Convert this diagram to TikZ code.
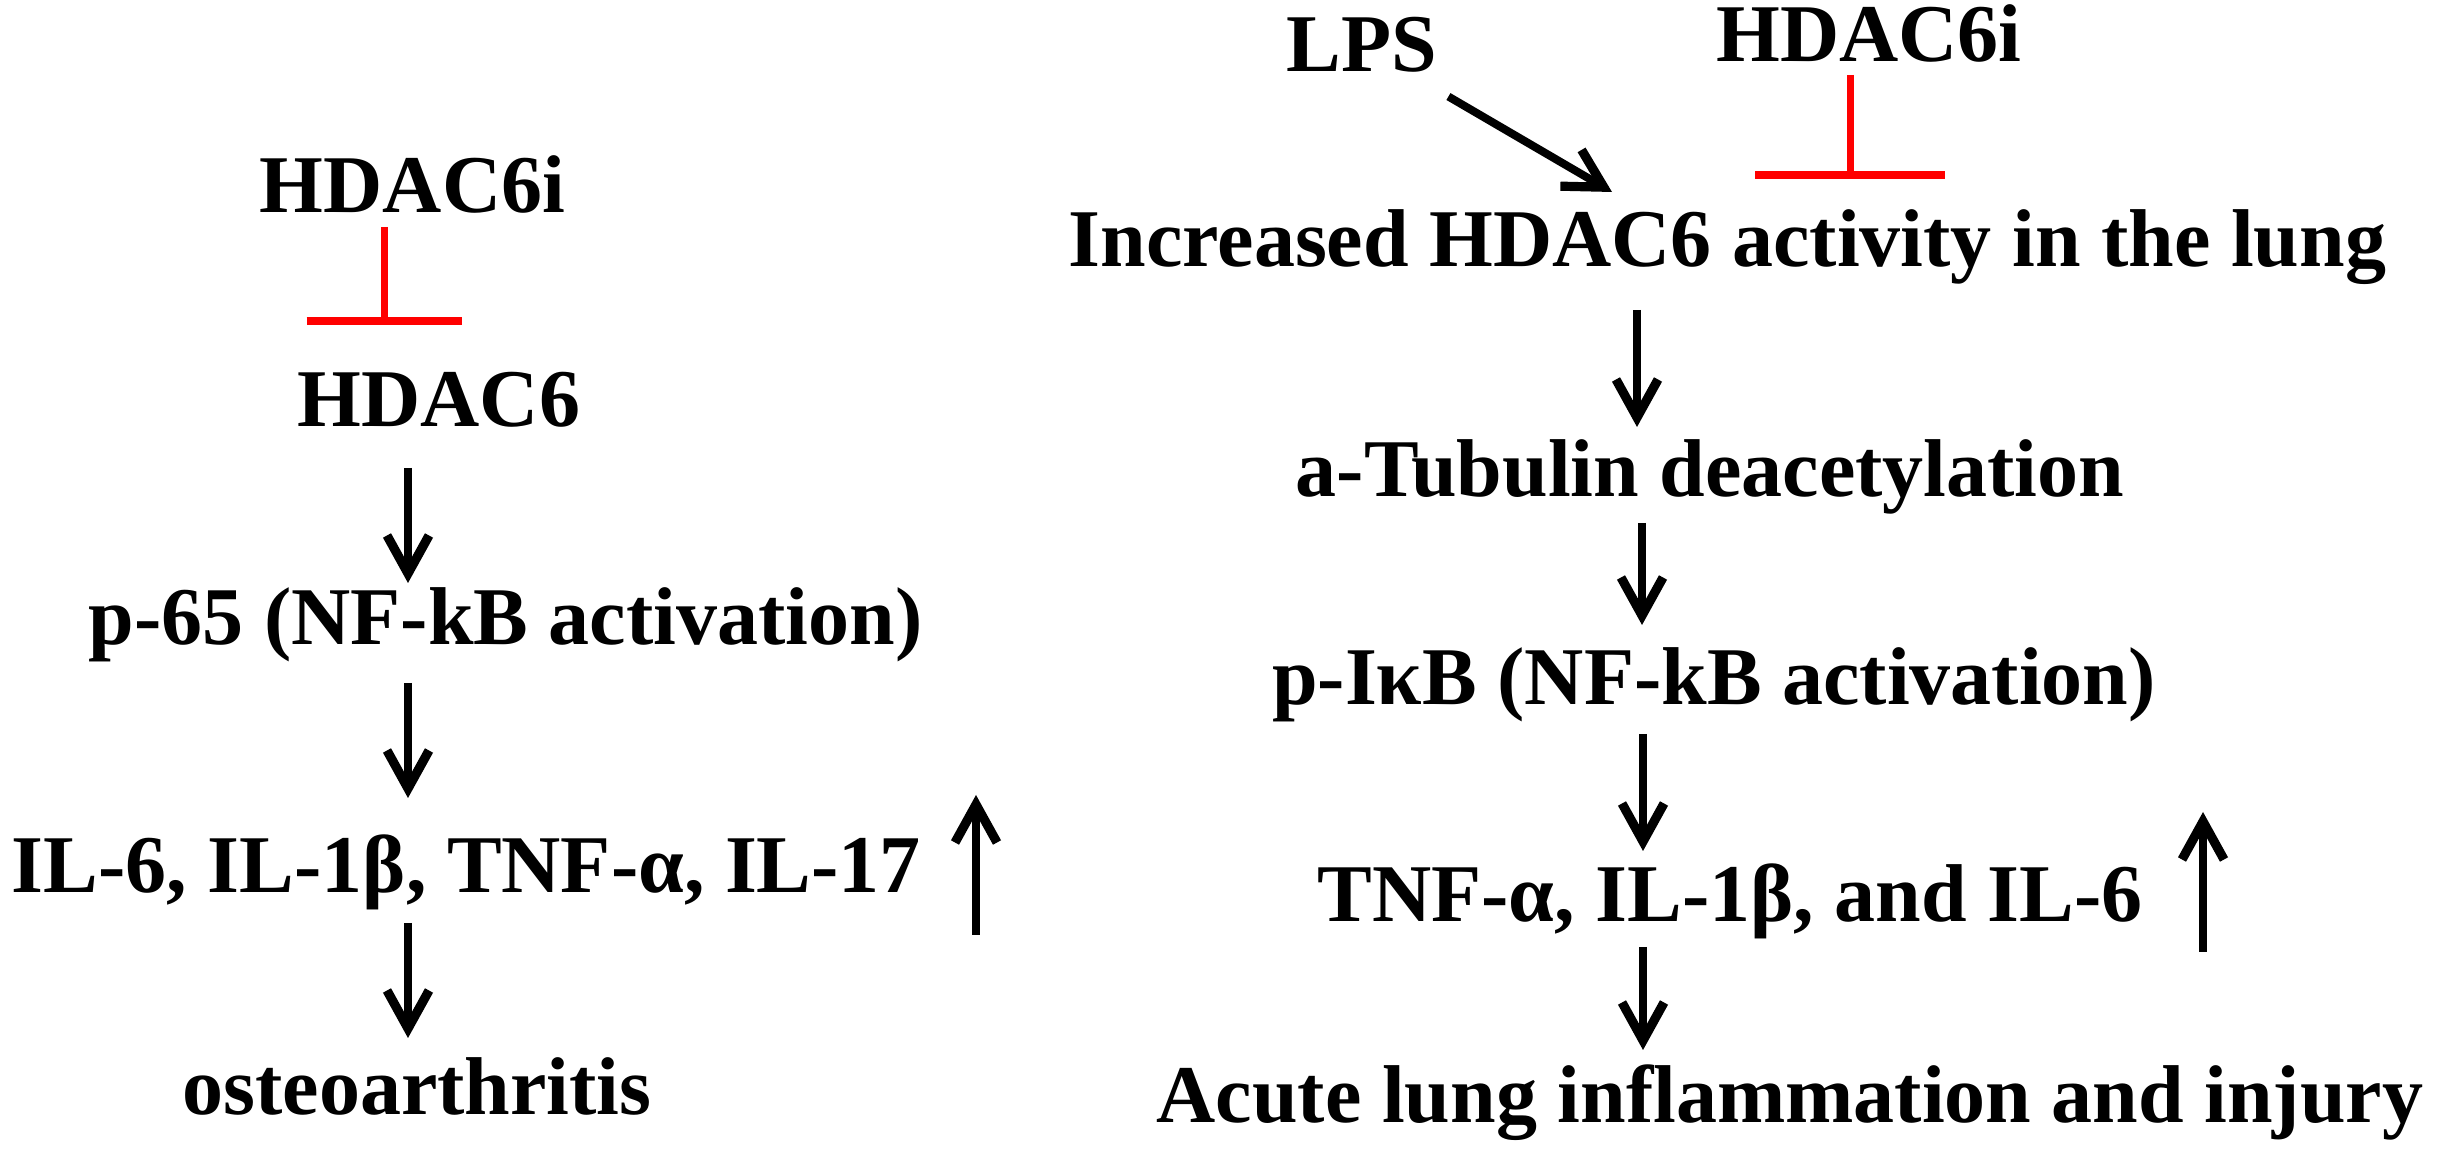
\documentclass[tikz,border=0pt]{standalone}
\usepackage{fontspec}
\setmainfont{Liberation Serif}
\usetikzlibrary{arrows.meta,calc}
\begin{document}
\begin{tikzpicture}[x=0.25pt,y=-0.25pt,
  lbl/.style={inner sep=0pt, outer sep=0pt, anchor=base,
    font=\fontsize{20.5}{24}\selectfont\bfseries, text height=14pt, text depth=4.5pt},
  arr/.style={line width=2pt, -{Straight Barb[length=9.5pt,width=10.5pt,line width=2.3pt]}},
  inhline/.style={draw=red, line width=1.75pt},
  inhbar/.style={draw=red, line width=2pt}]
\fill[white] (0,0) rectangle (2440,1152);
\useasboundingbox (0,0) rectangle (2440,1152);

% left pathway
\node[lbl] (hdiL) at (412.5,213) {HDAC6i};
\node[lbl] (hdL) at (439,427) {HDAC6};
\node[lbl] (p65) at (505.5,645) {p-65 (NF-kB activation)};
\node[lbl] (ilL) at (466.5,893) {IL-6, IL-1β, TNF-α, IL-17};
\node[lbl] (oa) at (417,1115) {osteoarthritis};

% right pathway
\node[lbl] (lps) at (1362,72) {LPS};
\node[lbl] (hdiR) at (1869,62) {HDAC6i};
\node[lbl] (inc) at (1727.5,267) {Increased HDAC6 activity in the lung};
\node[lbl] (tub) at (1710,497) {a-Tubulin deacetylation};
\node[lbl] (pikb) at (1714,705) {p-IκB (NF-kB activation)};
\node[lbl] (tnf) at (1730,922) {TNF-α, IL-1β, and IL-6};
\node[lbl] (acute) at (1790,1122) {Acute lung inflammation and injury};

% column coordinates
\coordinate (cL) at (408,0);
\coordinate (cR1) at (1637,0);
\coordinate (cR2) at (1642,0);
\coordinate (cR3) at (1643,0);

% left arrows
\draw[arr, shorten <=5.75pt, shorten >=1.5pt] (cL |- hdL.south) -- (cL |- p65.north);
\draw[arr, shorten <=5pt, shorten >=9.75pt] (cL |- p65.south) -- (cL |- ilL.north);
\draw[arr, shorten <=3pt, shorten >=5.25pt] (cL |- ilL.south) -- (cL |- oa.north);

% right arrows
\coordinate (lpsEnd) at (1612,192);
\draw[arr, shorten <=3.25pt] (lps.south east) -- (lpsEnd);
\draw[arr, shorten <=6.25pt, shorten >=3.5pt] (cR1 |- inc.south) -- (cR1 |- tub.north);
\draw[arr, shorten <=2pt, shorten >=6pt] (cR2 |- tub.south) -- (cR2 |- pikb.north);
\draw[arr, shorten <=2.75pt, shorten >=3.75pt] (cR3 |- pikb.south) -- (cR3 |- tnf.north);
\draw[arr, shorten <=1.75pt, shorten >=4pt] (cR3 |- tnf.south) -- (cR3 |- acute.north);

% increase arrows
\coordinate (upLa) at (976,935);
\coordinate (upLb) at (976,795);
\draw[arr] (upLa) -- (upLb);
\coordinate (upRa) at (2203,952);
\coordinate (upRb) at (2203,812);
\draw[arr] (upRa) -- (upRb);

% inhibition (left)
\coordinate (tL) at (384,321);
\draw[inhline, shorten <=-1pt] (tL |- hdiL.south) -- ($(tL)+(0,-4)$);
\draw[inhbar] ($(tL)+(-77.5,0)$) -- ($(tL)+(77.5,0)$);

% inhibition (right)
\coordinate (tR) at (1850,175);
\draw[inhline, shorten <=-1.25pt] (tR |- hdiR.south) -- ($(tR)+(0,-4)$);
\draw[inhbar] ($(tR)+(-95,0)$) -- ($(tR)+(95,0)$);
\end{tikzpicture}
\end{document}
